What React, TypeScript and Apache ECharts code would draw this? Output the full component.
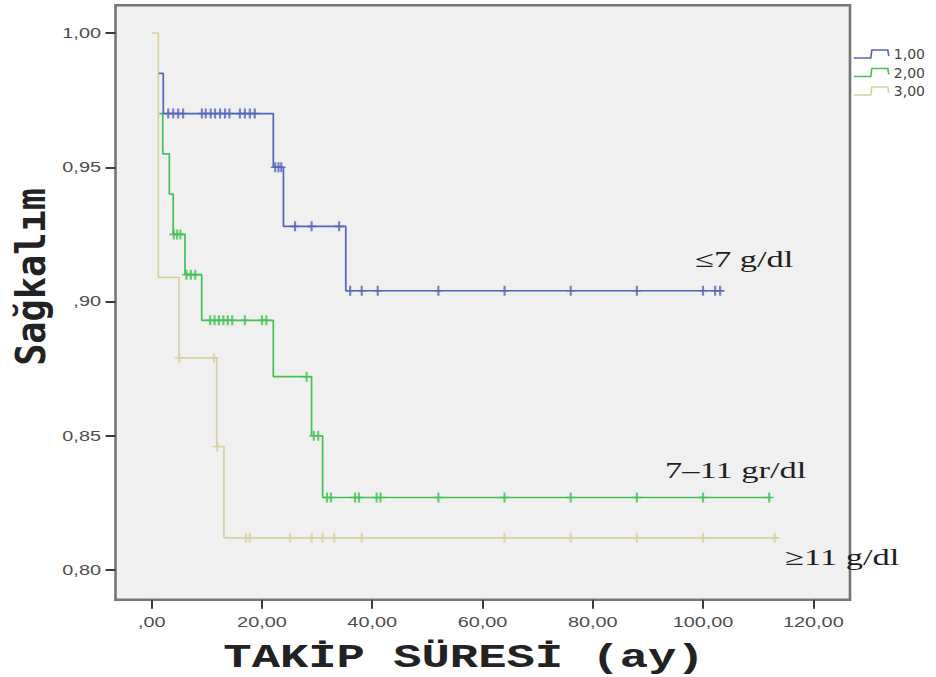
import React, { useEffect, useRef } from 'react';
import * as echarts from 'echarts';

// ---- axis ticks ----
const xTicks = [0, 20, 40, 60, 80, 100, 120];
const xTickLabels = [',00', '20,00', '40,00', '60,00', '80,00', '100,00', '120,00'];
const yTicks = [0.8, 0.85, 0.9, 0.95, 1.0];
const yTickLabels = ['0,80', '0,85', ',90', '0,95', '1,00'];

// ---- groups ----
const groupNames = ['1,00', '2,00', '3,00'];
const groupLabels = ['≤7 g/dl', '7–11 gr/dl', '≥11 g/dl'];

// survival steps [time, survival]
const curve1 = [[1.3, 0.985], [2.1, 0.97], [22.06, 0.95], [23.9, 0.928], [35.2, 0.904], [103.8, 0.904]];
const curve2 = [[1.4, 0.97], [2.0, 0.955], [3.2, 0.94], [3.9, 0.925], [6.04, 0.91], [9.07, 0.893], [22.06, 0.872], [29.0, 0.85], [31.0, 0.827], [112.4, 0.827]];
const curve3 = [[0, 1.0], [1.2, 0.909], [4.95, 0.879], [11.8, 0.846], [13.1, 0.812], [113.8, 0.812]];

// censored observations [time, survival]
const censor1 = [
  [3.0, 0.97], [3.9, 0.97], [4.8, 0.97], [5.7, 0.97],
  [9.1, 0.97], [9.8, 0.97], [10.7, 0.97], [11.5, 0.97], [12.4, 0.97], [13.3, 0.97], [14.1, 0.97],
  [16.0, 0.97], [16.9, 0.97], [17.8, 0.97], [18.7, 0.97],
  [22.4, 0.95], [23.0, 0.95], [23.5, 0.95],
  [26.0, 0.928], [29.0, 0.928], [34.0, 0.928],
  [36.0, 0.904], [38.1, 0.904], [41.0, 0.904], [52, 0.904], [64, 0.904], [76, 0.904], [88, 0.904], [100, 0.904], [102.2, 0.904], [103.1, 0.904]
];
const censor2 = [
  [4.0, 0.925], [4.6, 0.925], [5.2, 0.925],
  [6.3, 0.91], [7.1, 0.91], [7.9, 0.91],
  [10.6, 0.893], [11.4, 0.893], [12.2, 0.893], [13.0, 0.893], [13.8, 0.893], [14.6, 0.893], [16.9, 0.893], [20.0, 0.893], [20.8, 0.893],
  [28.1, 0.872],
  [29.4, 0.85], [30.2, 0.85],
  [31.8, 0.827], [32.5, 0.827], [36.9, 0.827], [37.6, 0.827], [40.8, 0.827], [41.5, 0.827],
  [52, 0.827], [64, 0.827], [76, 0.827], [88, 0.827], [100, 0.827], [112, 0.827]
];
const censor3 = [
  [5.0, 0.879], [11.3, 0.879],
  [11.9, 0.846],
  [17.1, 0.812], [17.8, 0.812], [25.1, 0.812], [29.0, 0.812], [31.0, 0.812], [33.1, 0.812], [38.1, 0.812],
  [64, 0.812], [76, 0.812], [88, 0.812], [100, 0.812], [113, 0.812]
];

const BLUE = '#5464bb';
const GREEN = '#44c056';
const TAN = '#d6d1a0';

const X_MIN = -6.566;
const X_MAX = 126.66;
const Y_MIN = 0.78894;
const Y_MAX = 1.01032;

const PLUS = 'path://M3.8,0H6.2V4.2H10V5.8H6.2V10H3.8V5.8H0V4.2H3.8Z';
const STEP_ICON = 'path://M0,8L17,8L18,0L34,0L35,6';

export default function App() {
  const ref = useRef<HTMLDivElement>(null);

  useEffect(() => {
    if (!ref.current) return;
    const chart = echarts.init(ref.current, null, { renderer: 'svg' });
    const colors = [BLUE, GREEN, TAN];
    const curves = [curve1, curve2, curve3];
    const censors = [censor1, censor2, censor3];

    const series: any[] = [];
    [2, 1, 0].forEach((i) => {
      series.push({
        name: groupNames[i],
        type: 'line',
        step: 'end',
        data: curves[i],
        symbol: 'none',
        showSymbol: false,
        lineStyle: { color: colors[i], width: 1.7 },
        itemStyle: { color: colors[i] },
        z: 2,
        silent: true
      });
      series.push({
        name: 'censor ' + groupNames[i],
        type: 'scatter',
        data: censors[i],
        symbol: PLUS,
        symbolSize: [9, 10],
        itemStyle: { color: colors[i] },
        z: 3,
        silent: true
      });
    });

    const axisTickStyle = { color: '#3a3a3a', width: 2 };

    chart.setOption({
      animation: false,
      backgroundColor: '#ffffff',
      grid: {
        left: 115.5, right: 86, top: 5.3, bottom: 77.3,
        show: true, backgroundColor: '#f0f0f0', borderColor: '#767676', borderWidth: 2.6
      },
      xAxis: {
        type: 'value', min: X_MIN, max: X_MAX,
        axisLine: { show: false, onZero: false }, splitLine: { show: false },
        axisLabel: { show: false },
        axisTick: { show: true, customValues: xTicks, length: 9, lineStyle: axisTickStyle }
      },
      yAxis: {
        type: 'value', min: Y_MIN, max: Y_MAX,
        axisLine: { show: false, onZero: false }, splitLine: { show: false },
        axisLabel: { show: false },
        axisTick: { show: true, customValues: yTicks, length: 10, lineStyle: axisTickStyle }
      },
      legend: {
        orient: 'vertical', left: 853, top: 47, padding: 0,
        itemWidth: 35, itemHeight: 8, itemGap: 4.5,
        selectedMode: false,
        icon: STEP_ICON,
        textStyle: { fontFamily: 'DejaVu Sans', fontSize: 14, color: '#444444' },
        data: groupNames.map((n, i) => ({
          name: n,
          icon: STEP_ICON,
          itemStyle: { color: 'rgba(0,0,0,0)', borderColor: colors[i], borderWidth: 1.6 }
        }))
      },
      series
    });

    const g: any[] = [];
    const bottomPx = chart.convertToPixel({ yAxisIndex: 0 }, Y_MIN) as number;
    const leftPx = chart.convertToPixel({ xAxisIndex: 0 }, X_MIN) as number;
    xTicks.forEach((v, i) => {
      const px = chart.convertToPixel({ xAxisIndex: 0 }, v) as number;
      g.push({
        type: 'text', x: px, y: bottomPx + 22, scaleX: 1.42, silent: true,
        style: { text: xTickLabels[i], fontFamily: 'Liberation Sans, Arial', fontSize: 14, fill: '#4d4d4d', align: 'center', verticalAlign: 'middle' }
      });
    });
    yTicks.forEach((v, i) => {
      const py = chart.convertToPixel({ yAxisIndex: 0 }, v) as number;
      g.push({
        type: 'text', x: leftPx - 14.5, y: py, scaleX: 1.42, silent: true,
        style: { text: yTickLabels[i], fontFamily: 'Liberation Sans, Arial', fontSize: 14, fill: '#4d4d4d', align: 'right', verticalAlign: 'middle' }
      });
    });
    // axis titles
    g.push({
      type: 'text', x: 464, y: 658, scaleX: 1.43, silent: true,
      style: { text: 'TAKİP SÜRESİ (ay)', fontFamily: 'Liberation Mono', fontWeight: 'bold', fontSize: 33, fill: '#222222', align: 'center', verticalAlign: 'middle' }
    });
    g.push({
      type: 'text', x: 31, y: 277, rotation: Math.PI / 2, scaleX: 0.9, silent: true,
      style: { text: 'Sağkalım', fontFamily: 'DejaVu Sans Mono', fontWeight: 'bold', fontSize: 41, fill: '#222222', align: 'center', verticalAlign: 'middle' }
    });
    // group annotations
    const annPos = [[695, 259.5], [665, 470.5], [785, 557.5]];
    groupLabels.forEach((t, i) => {
      g.push({
        type: 'text', x: annPos[i][0], y: annPos[i][1], scaleX: 1.5, silent: true,
        style: { text: t, fontFamily: 'Liberation Serif', fontSize: 23, fill: '#1e1e1e', align: 'left', verticalAlign: 'middle' }
      });
    });

    chart.setOption({ graphic: { elements: g } });

    return () => chart.dispose();
  }, []);

  return (
    <div
      ref={ref}
      style={{ position: 'absolute', left: 0, top: 0, width: 936, height: 677, background: '#fff' }}
    />
  );
}
